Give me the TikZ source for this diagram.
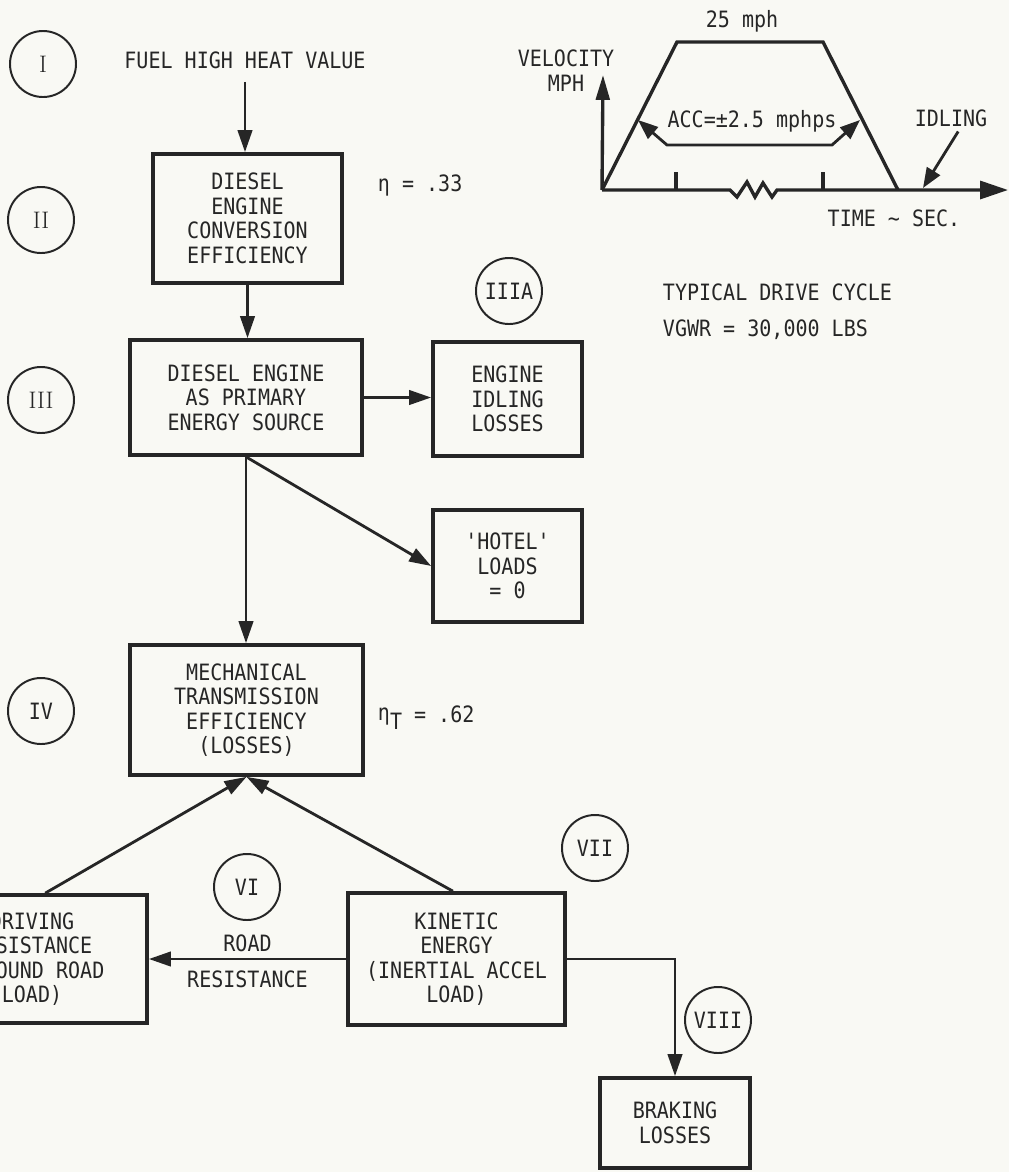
\documentclass[tikz,border=0pt]{standalone}
\usepackage{fontspec}
\usepackage{tikz}
\usetikzlibrary{arrows.meta,positioning,calc}
\newfontfamily\lettering{DejaVu Sans Mono}[FakeStretch=0.89]
\definecolor{ink}{RGB}{38,38,38}
\definecolor{paper}{RGB}{249,249,244}

\begin{document}
\begin{tikzpicture}[
  x=0.025cm, y=-0.025cm,
  >={Triangle[length=0.55cm,width=0.36cm]},
  font=\lettering\fontsize{16}{17.4}\selectfont,
  text=ink,
  box/.style={draw=ink, line width=2.6pt, align=center, inner sep=2pt},
  edge/.style={->, draw=ink, line width=2pt},
  tag/.style={circle, draw=ink, line width=1.4pt, minimum size=1.65cm, inner sep=0pt},
  roman/.style={font=\rmfamily\fontsize{17}{17}\selectfont},
  axis/.style={draw=ink, line width=2.4pt, line join=miter},
  pointer/.style={draw=ink, line width=2pt, >={Triangle[length=0.5cm,width=0.38cm]}}
]
\useasboundingbox (0,0) rectangle (1009,1172);
\fill[paper] (0,0) rectangle (1009,1172);
\clip (0,0) rectangle (1009,1172);

\node[tag, roman] (t1) at (43,64) {I};
\node[tag, roman] (t2) at (41,220) {II};
\node[tag, roman] (t3) at (41,400) {III};
\node[tag] (t3a) at (509,291) {IIIA};
\node[tag] (t4) at (41,711) {IV};
\node[tag] (t6) at (247,887) {VI};
\node[tag] (t7) at (595,848) {VII};
\node[tag] (t8) at (718,1020) {VIII};

\node (fuel) at (245,60) {FUEL HIGH HEAT VALUE};
\node[box, minimum width=4.725cm, minimum height=3.225cm] (conv) at (247.5,218.5) {DIESEL\\ENGINE\\CONVERSION\\EFFICIENCY};
\node[box, minimum width=5.8cm, minimum height=2.875cm] (src) at (246,397.5) {DIESEL ENGINE\\AS PRIMARY\\ENERGY SOURCE};
\node[box, minimum width=3.725cm, minimum height=2.85cm] (idle) at (507.5,399) {ENGINE\\IDLING\\LOSSES};
\node[box, minimum width=3.725cm, minimum height=2.8cm] (hotel) at (507.5,566) {'HOTEL'\\LOADS\\= 0};
\node[box, minimum width=5.825cm, minimum height=3.25cm] (trans) at (246.5,710) {MECHANICAL\\TRANSMISSION\\EFFICIENCY\\(LOSSES)};
\node[box, minimum width=5.75cm, minimum height=3.2cm] (road) at (32,959) {DRIVING\\RESISTANCE\\(GROUND ROAD\\LOAD)};
\node[box, minimum width=5.425cm, minimum height=3.3cm] (kin) at (456.5,959) {KINETIC\\ENERGY\\(INERTIAL ACCEL\\LOAD)};
\node[box, minimum width=3.75cm, minimum height=2.25cm] (brake) at (675,1123) {BRAKING\\LOSSES};

\node[anchor=west] (eta) at (373,185) {η = .33};
\node[anchor=west] (etat) at (373,718) {\raisebox{2pt}{η}\raisebox{-5pt}{T} = .62};

\draw[edge, shorten <=6pt] (fuel.south) -- (fuel.south |- conv.north);
\draw[edge] (conv.south) -- (conv.south |- src.north);
\draw[edge] (src.east) -- (src.east -| idle.west);
\draw[edge] (src.south) -- (hotel.west);
\draw[edge] (src.south) -- (src.south |- trans.north);
\draw[edge] ([xshift=0.33cm]road.north) -- (trans.south);
\draw[edge] ([xshift=-0.09cm]kin.north) -- (trans.south);
\draw[edge] (kin.west) -- node[above=1pt]{ROAD} node[below=4pt]{RESISTANCE} (kin.west -| road.east);
\draw[edge] (kin.east) -| (brake.north);

\coordinate (o) at (602,190);
\coordinate (accl) at (638,120);
\coordinate (accr) at (860,120);
\coordinate (idlept) at (923,188);
\draw[axis, ->, >={Triangle[length=0.62cm,width=0.34cm]}] (o) -- (603,75);
\draw[axis] (o) -- (677,42) -- (823,42) -- (898,190);
\draw[axis, ->, >={Triangle[length=0.7cm,width=0.45cm]}] (o) -- (730,190) -- (737,197) -- (747,182) -- (755,197) -- (763,183) -- (772,197) -- (777,190) -- (1008,190);
\foreach \x in {676,823}
  \draw[axis] (\x,172) -- (\x,190);
\draw[pointer, <->] (accl) -- (667,145) -- (832,145) -- (accr);
\node (acc) at (752,121) {ACC=±2.5 mphps};
\node (vmax) at (742,21) {25 mph};
\node (vel) at (566,58) {VELOCITY};
\node (mph) at (566,83) {MPH};
\node (time) at (894,218) {TIME \textasciitilde{} SEC.};
\node (idling) at (951,118) {IDLING};
\draw[pointer, ->] ([xshift=0.18cm]idling.south) -- (idlept);

\node[anchor=west] (cycle) at (658,292) {TYPICAL DRIVE CYCLE};
\node[anchor=west] (vgwr) at (658,330) {VGWR = 30,000 LBS};
\end{tikzpicture}
\end{document}
